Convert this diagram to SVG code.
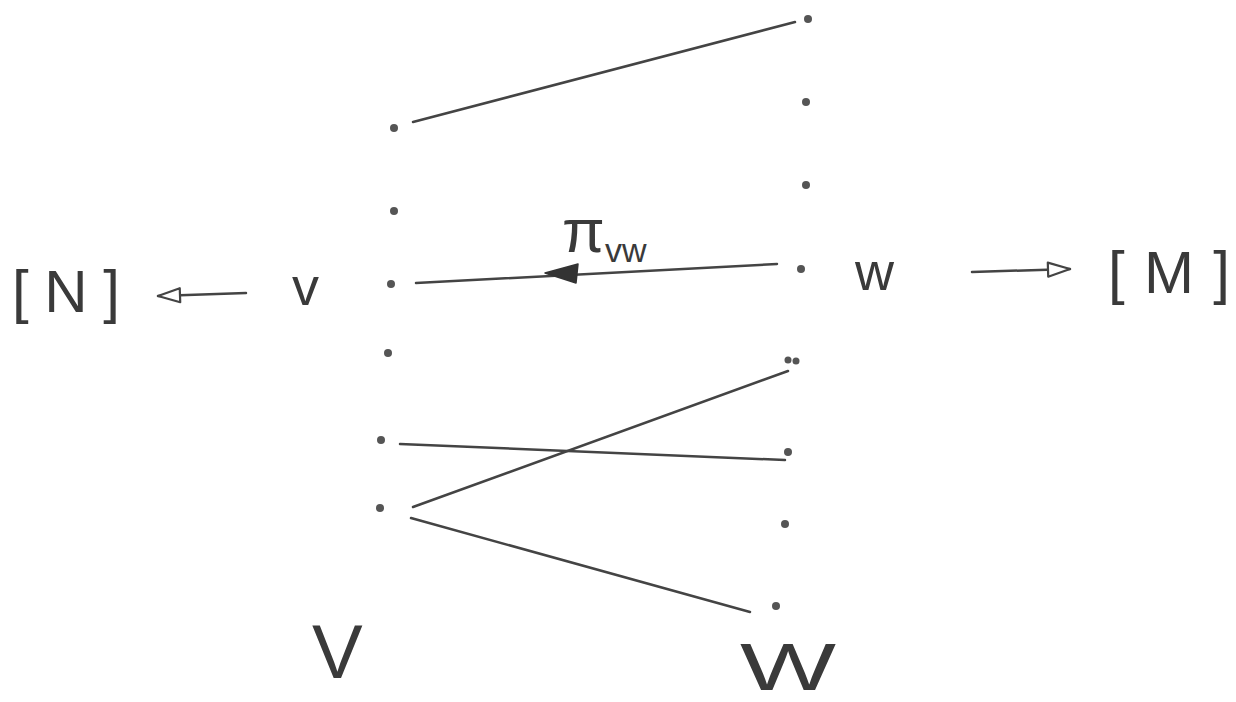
<svg xmlns="http://www.w3.org/2000/svg" width="1236" height="702" viewBox="0 0 1236 702">
<defs>
<style>
.dot{fill:#555;}
.ln{stroke:#444;stroke-width:2.5;fill:none;stroke-linecap:round;}
.t{font-family:"Liberation Sans",Arial,sans-serif;fill:#3a3a3a;}
</style>
<marker id="openR" viewBox="0 0 26 18" refX="24" refY="9" markerWidth="26" markerHeight="18" markerUnits="userSpaceOnUse" orient="auto">
<path d="M2,2 L24,9 L2,16 Z" fill="#fff" stroke="#444" stroke-width="2.2" stroke-linejoin="round"/>
</marker>
</defs>
<rect width="1236" height="702" fill="#fff"/>
<g id="set-V-points">
<circle class="dot" cx="394" cy="128" r="4"/>
<circle class="dot" cx="394" cy="211" r="4"/>
<circle class="dot" cx="391" cy="284" r="4"/>
<circle class="dot" cx="388" cy="353" r="4"/>
<circle class="dot" cx="381" cy="440" r="4"/>
<circle class="dot" cx="380" cy="508" r="4"/>
</g>
<g id="set-W-points">
<circle class="dot" cx="808" cy="19" r="4"/>
<circle class="dot" cx="806" cy="102" r="4"/>
<circle class="dot" cx="806" cy="185" r="4"/>
<circle class="dot" cx="801" cy="269" r="4"/>
<circle class="dot" cx="788" cy="360" r="3.5"/>
<circle class="dot" cx="796" cy="361" r="3.5"/>
<circle class="dot" cx="788" cy="452" r="4"/>
<circle class="dot" cx="785" cy="524" r="4"/>
<circle class="dot" cx="776" cy="606" r="4"/>
</g>
<g id="connectors">
<line class="ln" x1="413" y1="122" x2="795" y2="22"/>
<line class="ln" x1="777" y1="264" x2="416" y2="283"/>
<path d="M545,273 L578,264 L576,283 Z" fill="#333" stroke="#333" stroke-width="1.5" stroke-linejoin="round"/>
<line class="ln" x1="400" y1="444" x2="785" y2="460"/>
<line class="ln" x1="413" y1="507" x2="788" y2="371"/>
<line class="ln" x1="411" y1="518" x2="750" y2="612"/>
<line class="ln" x1="246" y1="293" x2="158" y2="296" marker-end="url(#openR)"/>
<line class="ln" x1="972" y1="272" x2="1070" y2="269" marker-end="url(#openR)"/>
</g>
<g id="label-pi">
<text class="t" x="562" y="252" font-size="62">π</text>
<text class="t" x="605" y="262" font-size="34">vw</text>
</g>
<g id="node-N"><text class="t" x="12" y="312" font-size="60" textLength="108" lengthAdjust="spacing">[N]</text></g>
<g id="node-v"><text class="t" x="292" y="305" font-size="54">v</text></g>
<g id="node-w"><text class="t" x="855" y="290" font-size="54">w</text></g>
<g id="node-M"><text class="t" x="1108" y="293" font-size="60" textLength="122" lengthAdjust="spacing">[M]</text></g>
<g id="label-V"><text class="t" x="312" y="678" font-size="76">V</text></g>
<g id="label-W"><text class="t" x="740" y="690" font-size="66" textLength="96" lengthAdjust="spacingAndGlyphs">W</text></g>
</svg>
